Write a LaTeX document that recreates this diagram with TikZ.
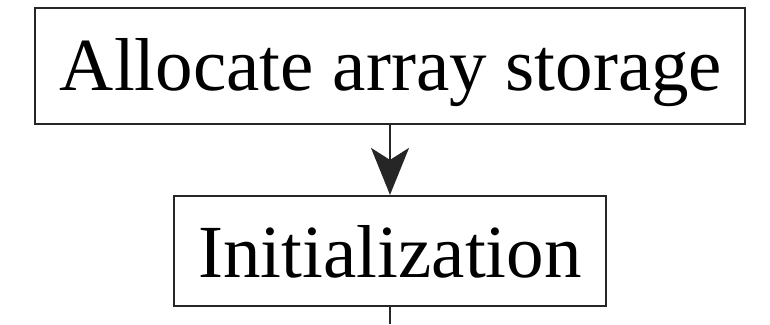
\documentclass[tikz,border=0pt]{standalone}
\usepackage{fontspec}
\setmainfont{Liberation Serif}
\usetikzlibrary{arrows.meta}
\begin{document}
\begin{tikzpicture}[x=1pt,y=-1pt,
  procbox/.style={draw=black!85, line width=2.2pt, inner sep=0pt, font=\fontsize{75}{80}\selectfont, anchor=center},
  flow/.style={draw=black!85, line width=2pt},
  tip/.style={-{Stealth[length=47pt,width=38pt,inset=12pt]}}]
\useasboundingbox (0,0) rectangle (770,324);
\node[procbox, minimum width=710pt, minimum height=116pt] (alloc) at (390,66) {};
\node[font=\fontsize{75}{80}\selectfont, anchor=base] (alloctext) at (391,90) {Allocate array storage};
\node[procbox, minimum width=432pt, minimum height=110pt] (init) at (390,251) {};
\node[font=\fontsize{75}{80}\selectfont, anchor=base] (inittext) at (390,277) {Initialization};
\coordinate (out) at (390,324);
\draw[flow, tip] (alloc.south) -- (init.north);
\draw[flow] (init.south) -- (out);
\end{tikzpicture}
\end{document}
